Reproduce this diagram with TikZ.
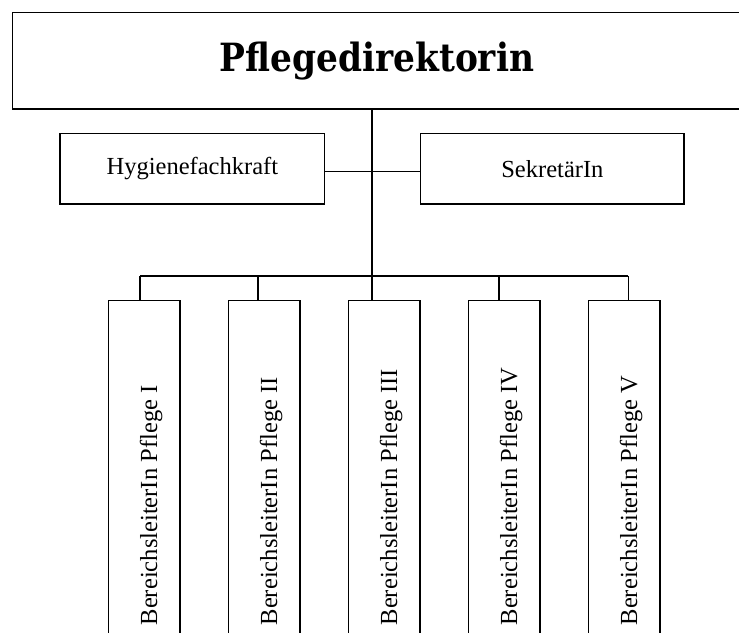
\documentclass[tikz,border=0pt]{standalone}
\usepackage{fontspec}
\setmainfont{Liberation Serif}
\newfontfamily\titlefont{DejaVu Serif}
\begin{document}
\begin{tikzpicture}[x=0.75pt,y=-0.75pt,line width=1.1pt,
  box/.style={draw,rectangle,inner sep=0pt,anchor=north west},
  subbox/.style={box,minimum width=53.6pt,minimum height=270pt},
  lbl/.style={font=\fontsize{18.4}{20}\selectfont},
  vlbl/.style={lbl,rotate=90,anchor=base west,inner sep=0pt}]
\useasboundingbox (0,0) rectangle (739,632);
\clip (0,0) rectangle (739,632);
% top box
\node[box,minimum width=546.6pt,minimum height=72.2pt,
      font=\titlefont\bfseries\fontsize{25.8}{28}\selectfont] (dir) at (11.7,12) {\scalebox{1}[1.13]{Pflegedirektorin}};
% staff boxes
\node[box,lbl,minimum width=198.5pt,minimum height=52.95pt] (hyg) at (59.3,132.7) {Hygienefachkraft};
\node[box,lbl,minimum width=197.5pt,minimum height=52.95pt] (sek) at (420,132.7) {SekretärIn};
% bottom boxes
\node[subbox] (b1) at (108,299.5) {};
\node[subbox] (b2) at (228,299.5) {};
\node[subbox] (b3) at (348,299.5) {};
\node[subbox] (b4) at (468,299.5) {};
\node[subbox] (b5) at (588,299.5) {};
\node[vlbl] (l1) at (157,626) {BereichsleiterIn Pflege I};
\node[vlbl] (l2) at (277,626) {BereichsleiterIn Pflege II};
\node[vlbl] (l3) at (397,626) {BereichsleiterIn Pflege III};
\node[vlbl] (l4) at (517,626) {BereichsleiterIn Pflege IV};
\node[vlbl] (l5) at (637,626) {BereichsleiterIn Pflege V};
% connector coordinates
\coordinate (trunk) at (372,276);
\coordinate (side) at (372,171.5);
\coordinate (d1) at (140,276);
\coordinate (d2) at (258,276);
\coordinate (d4) at (499,276);
\coordinate (d5) at (628.3,276);
% connectors
\draw (trunk |- dir.south) -- (trunk);
\draw (hyg.east |- side) -- (sek.west |- side);
\draw (d1) -- (d5);
\draw (d1) -- (d1 |- b1.north);
\draw (d2) -- (d2 |- b2.north);
\draw (trunk) -- (trunk |- b3.north);
\draw (d4) -- (d4 |- b4.north);
\draw (d5) -- (d5 |- b5.north);
\end{tikzpicture}
\end{document}
